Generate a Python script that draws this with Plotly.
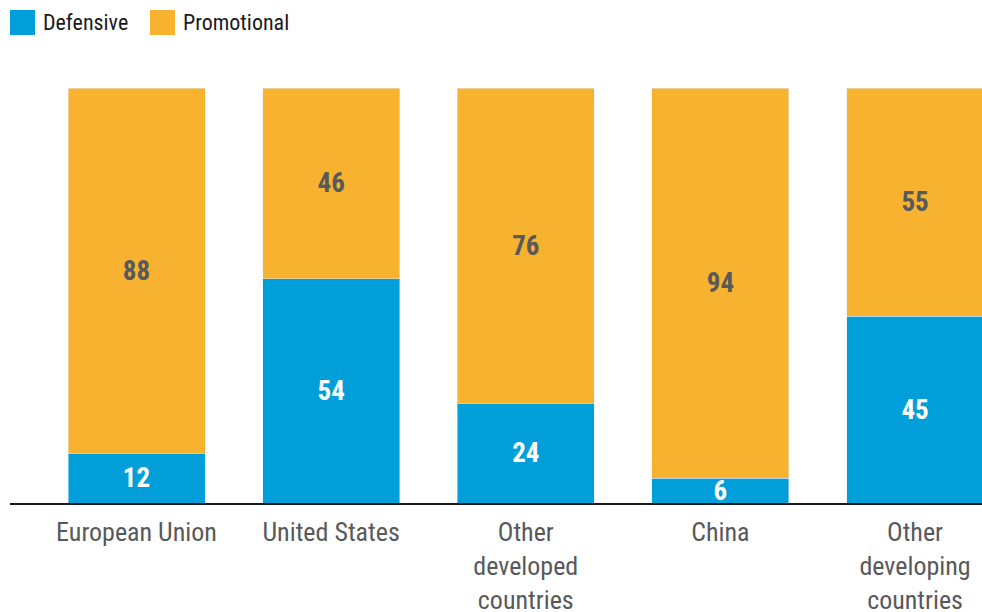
import plotly.graph_objects as go

categories = ["European Union", "United States", "Other<br>developed<br>countries",
              "China", "Other<br>developing<br>countries"]
defensive = [12, 54, 24, 6, 45]
promotional = [88, 46, 76, 94, 55]

BLUE = "#009FDA"
ORANGE = "#F7B330"
GREY = "#58595B"
FONT = "Liberation Sans Narrow, Arial Narrow, Roboto Condensed, Liberation Sans, sans-serif"

fig = go.Figure()
fig.add_trace(go.Bar(
    x=categories, y=defensive, name="Defensive", marker_color=BLUE,
    text=[str(v) for v in defensive], textposition="inside",
    insidetextanchor="middle", textangle=0,
    textfont=dict(family=FONT, size=27, color="white", weight="bold"),
))
fig.add_trace(go.Bar(
    x=categories, y=promotional, name="Promotional", marker_color=ORANGE,
    text=[str(v) for v in promotional], textposition="inside",
    insidetextanchor="middle", textangle=0,
    textfont=dict(family=FONT, size=27, color=GREY, weight="bold"),
))

W, H = 982, 612
L, R, T, B = 10, 0, 88, 109
pw, ph = W - L - R, H - T - B

def px_x(x):
    return (x - L) / pw

def px_y(y):
    return (H - B - y) / ph

# legend drawn as swatches + labels
legend_items = [("Defensive", BLUE, 10), ("Promotional", ORANGE, 150)]
shapes = []
annotations = []
for label, color, x0 in legend_items:
    shapes.append(dict(type="rect", xref="paper", yref="paper",
                       x0=px_x(x0), x1=px_x(x0 + 25), y0=px_y(35), y1=px_y(10),
                       fillcolor=color, line_width=0))
    annotations.append(dict(text=label, xref="paper", yref="paper",
                            x=px_x(x0 + 31), y=px_y(22.5), xanchor="left",
                            yanchor="middle", showarrow=False,
                            font=dict(family=FONT, size=22, color="#1a1a1a")))

fig.update_layout(
    width=W, height=H,
    margin=dict(l=L, r=R, t=T, b=B),
    barmode="stack",
    bargap=0.296,
    showlegend=False,
    plot_bgcolor="white", paper_bgcolor="white",
    uniformtext=dict(minsize=27, mode="show"),
    shapes=shapes,
    annotations=annotations,
    xaxis=dict(range=[-0.65, 4.344], showgrid=False, ticks="",
               automargin=False, ticklabelstandoff=5,
               showline=True, linecolor="#1a1a1a", linewidth=2,
               tickfont=dict(family=FONT, size=26, color=GREY)),
    yaxis=dict(range=[0, 100], visible=False, showgrid=False, automargin=False),
)

fig.write_html("out.html")
